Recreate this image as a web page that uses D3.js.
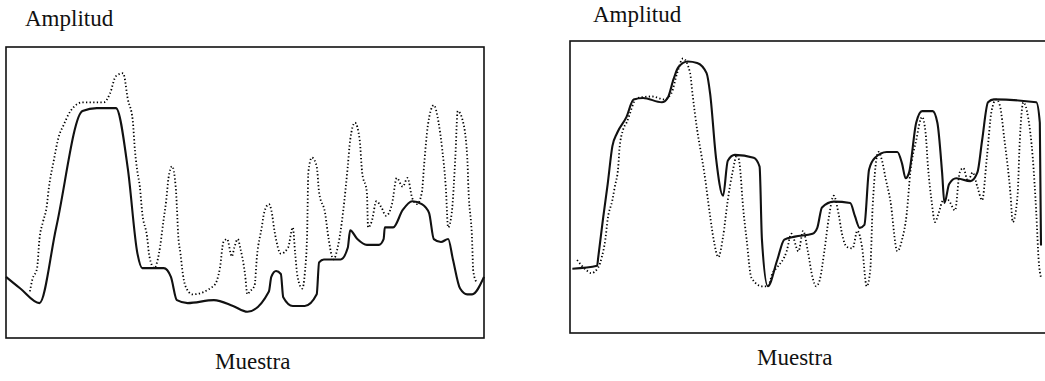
<!DOCTYPE html>
<html>
<head>
<meta charset="utf-8">
<script src="https://cdn.jsdelivr.net/npm/d3@7"></script>
<style>
  html, body { margin: 0; padding: 0; background: #fff; }
  svg { display: block; }
  .frame { fill: none; stroke: #111; stroke-width: 1.6; }
  .solid { fill: none; stroke: #111; stroke-width: 2.1; stroke-linejoin: round; }
  .dotted { fill: none; stroke: #000; stroke-width: 1.8; stroke-dasharray: 1.3 2.3; }
  .label { font-family: "Liberation Serif", "Times New Roman", serif; font-size: 23px; fill: #111; }
</style>
</head>
<body>
<div id="chart"></div>
<script>
// muestra (0-200) / amplitud (0-100)

// left panel
const leftSolid = [
  [0, 21], [6, 17], [14, 12], [21, 38], [32, 78], [38, 79], [46, 79], [51, 58],
  [55, 29], [57, 24], [66, 24], [69, 21], [71.5, 13], [76, 12], [87, 13], [95, 11],
  [101, 9], [110, 16], [111, 21], [113, 23], [115, 22], [116, 14], [120, 11], [125, 11],
  [130, 15], [131, 26], [133, 27], [140, 27], [143, 31], [144, 37], [147, 34], [151, 32],
  [156, 32], [158, 34], [158.5, 38], [162, 38], [166, 44], [170, 47], [174, 46], [177, 43],
  [179, 34], [182, 33], [185, 34], [187, 27], [190, 17], [193, 15], [195, 15], [200, 21]
];
const leftDotted = [
  [10, 16], [11, 20], [13, 24], [14, 34], [15.5, 40], [17, 45], [18, 52], [20, 61],
  [22, 69], [24, 73], [27, 78], [32, 81], [34, 81], [41, 81], [43.5, 84], [46, 90],
  [49, 91], [51, 82], [53, 75], [54, 64], [55, 57], [56, 52], [57, 43], [59, 35],
  [60, 28], [62, 24], [64, 29], [66, 41], [67, 47], [68, 55], [69.5, 59], [71, 52],
  [71.5, 45], [72, 36], [73, 29], [74, 22], [75, 18], [78, 15], [87, 18], [89.5, 24],
  [91, 33], [92.5, 34], [94.5, 28], [95.5, 31], [97, 34], [98, 31], [100, 22], [101, 15],
  [102, 16], [104, 18], [105, 28], [107, 38], [108, 43], [110, 46], [111, 44], [112.5, 36],
  [115, 29], [118, 31], [120, 38], [121, 29], [122, 21], [124, 17], [125, 22], [126, 36],
  [126.5, 57], [128, 62], [130, 59], [131, 50], [133.5, 43], [135, 34], [137, 27], [139, 32],
  [141, 43], [143, 59], [144, 68], [146, 74], [148, 68], [149, 57], [151, 50], [151.5, 38],
  [153, 40], [155, 47], [157, 45], [159, 42], [161.5, 46], [163.5, 55], [166, 52], [168, 55],
  [170, 48], [172, 46], [174, 50], [175, 60], [176.5, 73], [179, 80], [181, 74], [182.5, 65],
  [184, 52], [185, 38], [186.5, 43], [188, 62], [189, 78], [191, 75], [193, 62], [193.5, 51],
  [195, 34], [195.5, 23], [197, 19]
];

// right panel
const rightSolid = [
  [1, 22], [11.5, 23], [12, 26], [14, 39], [16, 51], [18, 64], [20, 68.5], [24, 74],
  [27, 80], [31, 80.5], [39, 79], [41.5, 80.5], [44, 87], [46, 91], [50, 93], [54, 92.5],
  [58, 89], [59.5, 82], [62, 60], [65, 47], [67, 59], [70, 61], [78, 60], [80.5, 57],
  [81.5, 32], [84, 16], [88, 25], [91, 32], [95.5, 33], [103, 34], [105, 36], [107, 43],
  [112, 45], [119, 44.5], [121, 40], [123, 36], [125, 37], [127, 56], [129.5, 60], [134.5, 62],
  [139, 62], [141, 58], [142.5, 53], [144, 55], [147, 72], [149.5, 76], [154, 76], [156, 72],
  [158, 55], [159, 44.5], [161, 51], [164, 53], [170, 52], [173, 55], [175, 66], [177.5, 79],
  [180, 80], [198, 79], [199.5, 72], [200, 30]
];
const rightDotted = [
  [3, 25], [7, 21.5], [9, 20.5], [12, 22.5], [13.5, 26], [15, 32], [16, 39], [18, 45.5],
  [19, 50], [20.5, 57], [21, 63], [22.5, 69.5], [24, 72], [28.5, 80.5], [35, 81], [40, 80],
  [43, 82], [45.5, 89], [48, 94], [51, 89], [52, 82], [54, 69.5], [56, 60], [57, 55],
  [59.5, 40], [61, 32], [63, 26], [65, 33], [67, 45.5], [69, 55], [71, 61], [72, 58],
  [73.5, 43], [75, 32], [77, 19], [81.5, 16], [84, 16], [86, 20.5], [88, 22.5], [92, 28],
  [94, 34], [97, 28], [99, 35], [101, 28], [103, 19], [104.5, 16], [106, 18], [108, 28],
  [110, 40], [112, 47], [114, 41], [115.5, 34], [117.5, 29.5], [120, 29], [122, 35], [124, 29.5],
  [126, 16], [127.5, 21.5], [128.5, 43], [131, 62], [132.5, 59], [134, 53], [136, 45.5], [139, 28],
  [141, 32], [143, 41], [144.5, 55], [147, 66], [149.5, 74], [151, 68.5], [152, 57], [153.5, 45.5],
  [155, 38], [156.5, 41], [158.5, 45.5], [160.5, 45.5], [163.5, 42], [165.5, 55], [167, 56.5], [169, 52],
  [171, 55], [173, 50], [175, 45.5], [177, 60], [179, 76], [181, 80], [182.5, 78], [184.5, 66],
  [187, 48], [188, 38], [190, 46.5], [191, 66], [192.5, 79], [194.5, 74], [196.5, 60], [198, 41],
  [199, 25], [200, 19]
];

const yLabel = "Amplitud";
const xLabel = "Muestra";

const W = 1045, H = 381;

// frameRight: where the border box ends (right panel's edge is cut off by the page)
const panels = [
  { solid: leftSolid, dotted: leftDotted,
    box: { left: 6, right: 484, top: 47, bottom: 338, frameRight: 484 },
    yLab: [25, 26], xLab: [215, 369] },
  { solid: rightSolid, dotted: rightDotted,
    box: { left: 570, right: 1041, top: 41, bottom: 333, frameRight: 1050 },
    yLab: [593, 22], xLab: [757, 365] }
];

const svg = d3.select("#chart")
  .append("svg")
  .attr("width", W)
  .attr("height", H)
  .attr("viewBox", `0 0 ${W} ${H}`);

panels.forEach((p) => {
  const b = p.box;
  const x = d3.scaleLinear().domain([0, 200]).range([b.left, b.right]);
  const y = d3.scaleLinear().domain([0, 100]).range([b.bottom, b.top]);

  const g = svg.append("g");

  g.append("rect")
    .attr("class", "frame")
    .attr("x", b.left)
    .attr("y", b.top)
    .attr("width", b.frameRight - b.left)
    .attr("height", b.bottom - b.top);

  const line = d3.line()
    .x(([sx]) => x(sx))
    .y(([, a]) => y(a))
    .curve(d3.curveMonotoneX);

  g.append("path")
    .datum(p.dotted)
    .attr("class", "dotted")
    .attr("d", line);

  g.append("path")
    .datum(p.solid)
    .attr("class", "solid")
    .attr("d", line);

  g.append("text")
    .attr("class", "label")
    .attr("x", p.yLab[0])
    .attr("y", p.yLab[1])
    .text(yLabel);

  g.append("text")
    .attr("class", "label")
    .attr("x", p.xLab[0])
    .attr("y", p.xLab[1])
    .text(xLabel);
});
</script>
</body>
</html>
